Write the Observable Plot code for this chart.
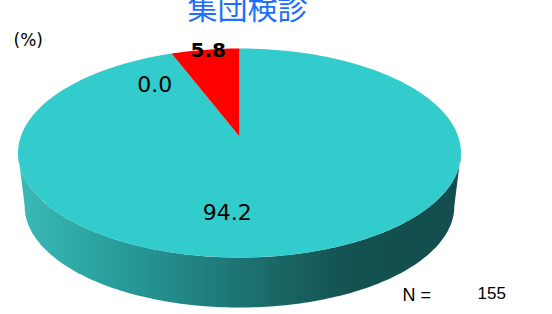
<!DOCTYPE html>
<html>
<head>
<meta charset="utf-8">
<script src="https://cdn.jsdelivr.net/npm/d3@7"></script>
<script src="https://cdn.jsdelivr.net/npm/@observablehq/plot@0.6"></script>
<style>
  html, body { margin: 0; padding: 0; background: #fff; }
  #chart { width: 552px; height: 314px; overflow: hidden; }
</style>
</head>
<body>
<div id="chart"></div>
<script>
// ---- data ----
const title = "集団検診";
const unitLabel = "(%)";
const categories = ["精検受診", "精検未受診", "未把握"];
const values = [94.2, 0.0, 5.8];
const sliceColors = ["#33CCCC", "#9999FF", "#FF0000"];
const sampleLabel = "N =";
const sampleSize = 155;

// ---- layout / style (not data) ----
const W = 552, H = 314;
const persp = 0.158;      // perspective strength
const bottomScale = 0.97; // bottom disc shrink
const depth = 0.526;      // side depth in y-units
const labelLayout = {
  "精検受診":   {r: 0.75, dx: -46, dy: -9, size: 22, weight: "normal"},
  "精検未受診": {r: 0.75, dx: -32, dy: 13, size: 22, weight: "normal"},
  "未把握":     {r: 1.0,  dx: 3,   dy: 1,  size: 20, weight: "bold"}
};
const numFont = "'DejaVu Sans', 'Noto Sans', sans-serif";

function proj(thetaDeg, r, level) {
  const t = thetaDeg * Math.PI / 180;
  const X = r * Math.sin(t), Y = -r * Math.cos(t);
  const f = 1 / (1 - persp * Y);
  if (level === 0) return [X * f, Y * f];
  return [X * f * bottomScale, Y * f * bottomScale + depth];
}

// slices from data
const total = d3.sum(values);
let acc = 0;
const slices = categories.map((c, i) => {
  const a0 = acc / total * 360;
  acc += values[i];
  const a1 = acc / total * 360;
  return {key: c, value: values[i], color: sliceColors[i], a0, a1};
});

// top polygons
const topPts = [];
for (const s of slices) {
  if (s.a1 - s.a0 <= 0) continue;
  topPts.push({key: s.key, color: s.color, x: 0, y: 0});
  const n = Math.max(2, Math.ceil(s.a1 - s.a0));
  for (let k = 0; k <= n; k++) {
    const a = s.a0 + (s.a1 - s.a0) * k / n;
    const [x, y] = proj(a, 1, 0);
    topPts.push({key: s.key, color: s.color, x, y});
  }
}

// side polygons (front-visible part only)
const silR = Math.acos(-persp) * 180 / Math.PI; // right silhouette angle
const silL = 360 - silR;
const sidePts = [];
for (const s of slices) {
  const lo = Math.max(s.a0, silR), hi = Math.min(s.a1, silL);
  if (hi - lo <= 0) continue;
  const n = Math.ceil(hi - lo);
  for (let k = 0; k <= n; k++) {
    const a = lo + (hi - lo) * k / n;
    const [x, y] = proj(a, 1, 0);
    sidePts.push({key: s.key, x, y});
  }
  for (let k = n; k >= 0; k--) {
    const a = lo + (hi - lo) * k / n;
    const [x, y] = proj(a, 1, 1);
    sidePts.push({key: s.key, x, y});
  }
}

// labels
const labels = slices.map(s => {
  const L = labelLayout[s.key];
  const mid = (s.a0 + s.a1) / 2;
  const [x, y] = proj(mid, L.r, 0);
  return {key: s.key, text: s.value.toFixed(1), x, y, ...L};
});

const labelMarks = labels.map(l =>
  Plot.text([l], {x: "x", y: "y", text: "text", dx: l.dx, dy: l.dy,
    fontSize: l.size, fontWeight: l.weight, fill: "#000", fontFamily: numFont})
);

const plot = Plot.plot({
  width: W, height: H,
  margin: 0,
  x: {domain: [-1, 1], range: [239 - 218.7, 239 + 218.7], axis: null},
  y: {domain: [-1, 1], range: [136 - 101.9, 136 + 101.9], axis: null},
  style: {background: "#fff", overflow: "visible"},
  marks: [
    Plot.line(sidePts, {x: "x", y: "y", z: "key", fill: "url(#sideGrad)", stroke: null, curve: "linear"}),
    Plot.line(topPts, {x: "x", y: "y", z: "key", fill: "color", stroke: null, curve: "linear"}),
    ...labelMarks,
    Plot.text([title], {frameAnchor: "top", lineAnchor: "middle", text: d => d, dx: -29, dy: 9,
      fontSize: 30, fill: "#1E6EFF", fontFamily: "'Noto Sans CJK JP', sans-serif"}),
    Plot.text([unitLabel], {frameAnchor: "top-left", lineAnchor: "middle", text: d => d, textAnchor: "start", dx: 13, dy: 40,
      fontSize: 17, fill: "#000", fontFamily: numFont}),
    Plot.text([sampleLabel], {frameAnchor: "top-left", lineAnchor: "middle", text: d => d, textAnchor: "start", dx: 402, dy: 295,
      fontSize: 18, fill: "#000", fontFamily: "'Liberation Sans', sans-serif"}),
    Plot.text([sampleSize], {frameAnchor: "top-left", lineAnchor: "middle", text: d => String(d), textAnchor: "start", dx: 477, dy: 293,
      fontSize: 17, fill: "#000", fontFamily: "'Liberation Sans', sans-serif"})
  ]
});

// gradient definition for the pie side
const defs = d3.create("svg:defs");
const grad = defs.append("linearGradient").attr("id", "sideGrad")
  .attr("x1", "0").attr("x2", "1").attr("y1", "0").attr("y2", "0");
[["0", "#3bbab8"], ["0.18", "#2aa3a1"], ["0.42", "#20807e"], ["0.62", "#196260"],
 ["0.75", "#145151"], ["1", "#134d4d"]].forEach(([o, c]) =>
  grad.append("stop").attr("offset", o).attr("stop-color", c));
plot.insertBefore(defs.node(), plot.firstChild);

document.getElementById("chart").appendChild(plot);
</script>
</body>
</html>
